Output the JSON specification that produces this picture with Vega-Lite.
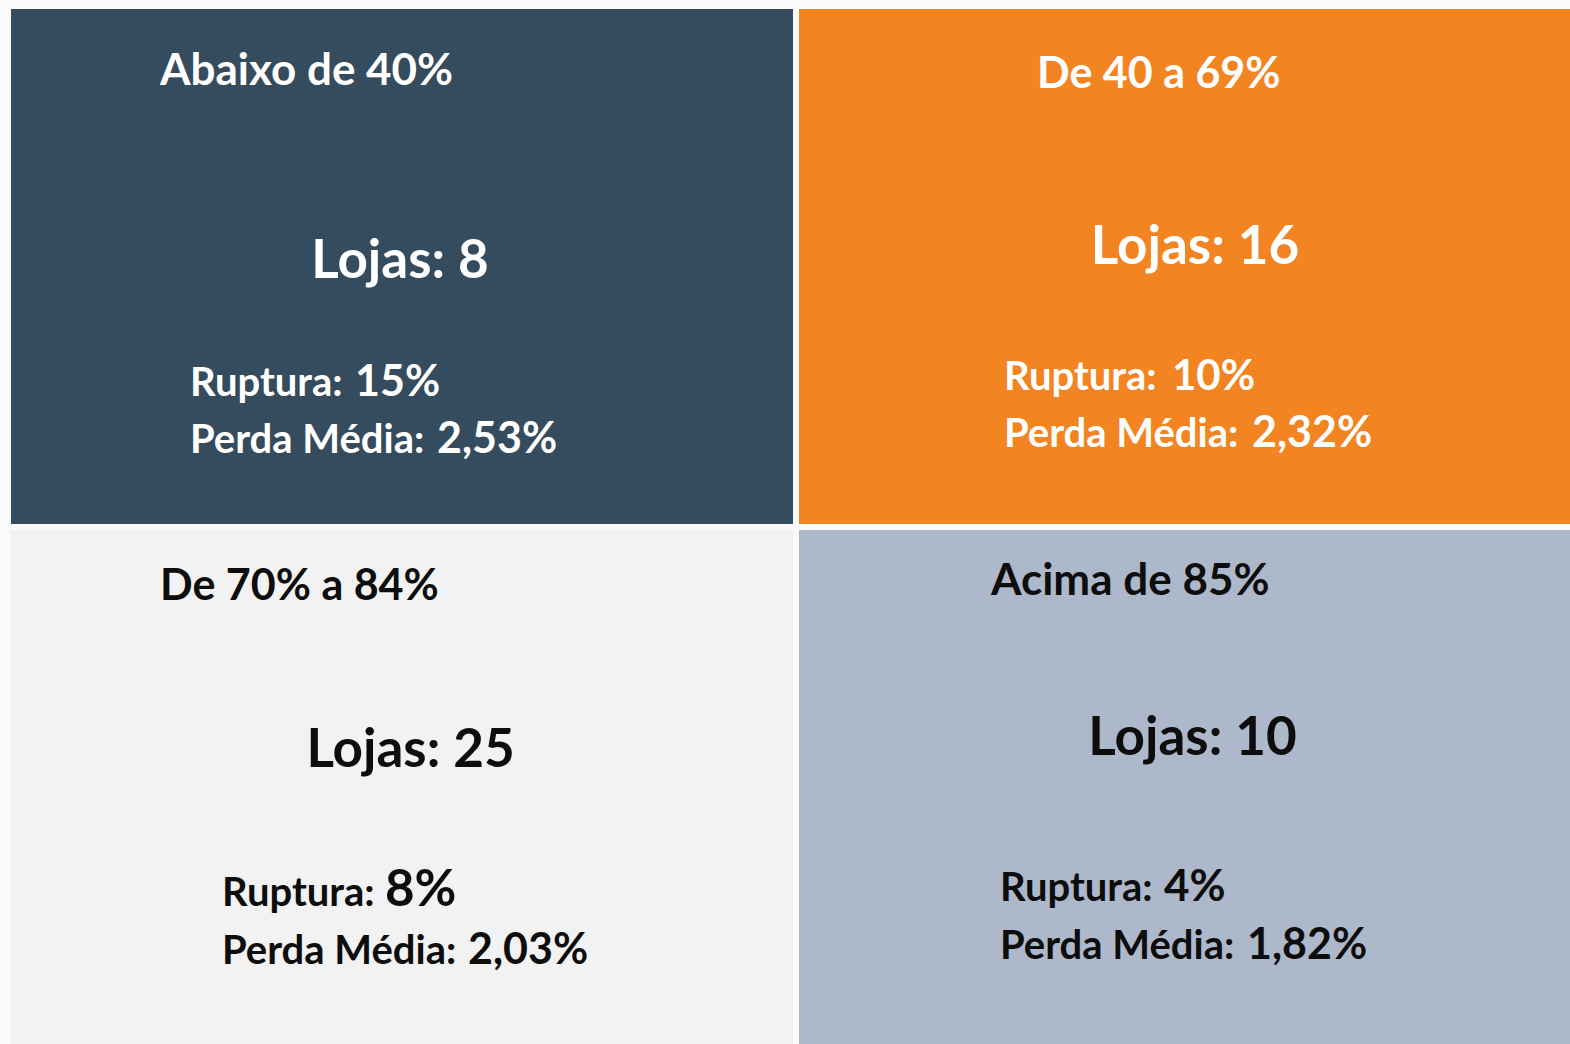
{
  "$schema": "https://vega.github.io/schema/vega-lite/v6.json",
  "width": 1570,
  "height": 1044,
  "autosize": "none",
  "padding": 0,
  "background": "#FAFAFA",
  "config": {"view": {"stroke": null}, "text": {"font": "Lato", "fontWeight": "bold", "baseline": "alphabetic"}},
  "data": {
    "values": [
      {"faixa": "Abaixo de 40%", "col": "E", "lin": "S", "lojas": 8, "ruptura": "15%", "perda": "2,53%"},
      {"faixa": "De 40 a 69%", "col": "D", "lin": "S", "lojas": 16, "ruptura": "10%", "perda": "2,32%"},
      {"faixa": "De 70% a 84%", "col": "E", "lin": "I", "lojas": 25, "ruptura": "8%", "perda": "2,03%"},
      {"faixa": "Acima de 85%", "col": "D", "lin": "I", "lojas": 10, "ruptura": "4%", "perda": "1,82%"}
    ]
  },
  "encoding": {
    "x": {"field": "col", "type": "nominal", "axis": null, "scale": {"domain": ["E", "D"], "range": [11, 1581], "paddingInner": 0.0076, "paddingOuter": 0}},
    "y": {"field": "lin", "type": "nominal", "axis": null, "scale": {"domain": ["S", "I"], "range": [9, 1045], "paddingInner": 0.0115, "paddingOuter": 0}}
  },
  "layer": [
    {
      "mark": {"type": "rect"},
      "encoding": {
        "color": {"field": "faixa", "type": "nominal", "legend": null,
          "scale": {"domain": ["Abaixo de 40%", "De 40 a 69%", "De 70% a 84%", "Acima de 85%"], "range": ["#354B5E", "#F38422", "#F2F2F2", "#ADB8CB"]}}
      }
    },
    {
      "transform": [{"filter": "datum.faixa === 'Abaixo de 40%'"}],
      "layer": [
        {"mark": {"type": "text", "align": "left", "dx": -242, "dy": -182, "fontSize": 44, "color": "white"}, "encoding": {"text": {"field": "faixa"}}},
        {"mark": {"type": "text", "align": "center", "dx": -2, "dy": 11, "fontSize": 53, "color": "white", "text": {"expr": "'Lojas: ' + datum.lojas"}}},
        {"mark": {"type": "text", "align": "left", "dx": -212, "dy": 129, "fontSize": 40, "color": "white", "text": "Ruptura:"}},
        {"mark": {"type": "text", "align": "left", "dx": -47, "dy": 129, "fontSize": 43, "color": "white"}, "encoding": {"text": {"field": "ruptura"}}},
        {"mark": {"type": "text", "align": "left", "dx": -212, "dy": 186, "fontSize": 40, "color": "white", "text": "Perda Média:"}},
        {"mark": {"type": "text", "align": "left", "dx": 35, "dy": 186, "fontSize": 43, "color": "white"}, "encoding": {"text": {"field": "perda"}}}
      ]
    },
    {
      "transform": [{"filter": "datum.faixa === 'De 40 a 69%'"}],
      "layer": [
        {"mark": {"type": "text", "align": "left", "dx": -153, "dy": -178.5, "fontSize": 43, "color": "white"}, "encoding": {"text": {"field": "faixa"}}},
        {"mark": {"type": "text", "align": "center", "dx": 5, "dy": -2.5, "fontSize": 53, "color": "white", "text": {"expr": "'Lojas: ' + datum.lojas"}}},
        {"mark": {"type": "text", "align": "left", "dx": -186, "dy": 123, "fontSize": 40, "color": "white", "text": "Ruptura:"}},
        {"mark": {"type": "text", "align": "left", "dx": -18, "dy": 123, "fontSize": 42, "color": "white"}, "encoding": {"text": {"field": "ruptura"}}},
        {"mark": {"type": "text", "align": "left", "dx": -186, "dy": 180, "fontSize": 40, "color": "white", "text": "Perda Média:"}},
        {"mark": {"type": "text", "align": "left", "dx": 62, "dy": 180, "fontSize": 43, "color": "white"}, "encoding": {"text": {"field": "perda"}}}
      ]
    },
    {
      "transform": [{"filter": "datum.faixa === 'De 70% a 84%'"}],
      "layer": [
        {"mark": {"type": "text", "align": "left", "dx": -242, "dy": -187, "fontSize": 43, "color": "#0D0D0D"}, "encoding": {"text": {"field": "faixa"}}},
        {"mark": {"type": "text", "align": "center", "dx": 8.5, "dy": -20, "fontSize": 53, "color": "#0D0D0D", "text": {"expr": "'Lojas: ' + datum.lojas"}}},
        {"mark": {"type": "text", "align": "left", "dx": -180, "dy": 119, "fontSize": 40, "color": "#0D0D0D", "text": "Ruptura:"}},
        {"mark": {"type": "text", "align": "left", "dx": -17, "dy": 119, "fontSize": 51, "color": "#0D0D0D"}, "encoding": {"text": {"field": "ruptura"}}},
        {"mark": {"type": "text", "align": "left", "dx": -180, "dy": 177, "fontSize": 40, "color": "#0D0D0D", "text": "Perda Média:"}},
        {"mark": {"type": "text", "align": "left", "dx": 66, "dy": 177, "fontSize": 43, "color": "#0D0D0D"}, "encoding": {"text": {"field": "perda"}}}
      ]
    },
    {
      "transform": [{"filter": "datum.faixa === 'Acima de 85%'"}],
      "layer": [
        {"mark": {"type": "text", "align": "left", "dx": -199, "dy": -192.5, "fontSize": 44, "color": "#0D0D0D"}, "encoding": {"text": {"field": "faixa"}}},
        {"mark": {"type": "text", "align": "center", "dx": 2.5, "dy": -32.5, "fontSize": 53, "color": "#0D0D0D", "text": {"expr": "'Lojas: ' + datum.lojas"}}},
        {"mark": {"type": "text", "align": "left", "dx": -190, "dy": 114, "fontSize": 40, "color": "#0D0D0D", "text": "Ruptura:"}},
        {"mark": {"type": "text", "align": "left", "dx": -26, "dy": 114, "fontSize": 44, "color": "#0D0D0D"}, "encoding": {"text": {"field": "ruptura"}}},
        {"mark": {"type": "text", "align": "left", "dx": -190, "dy": 172, "fontSize": 40, "color": "#0D0D0D", "text": "Perda Média:"}},
        {"mark": {"type": "text", "align": "left", "dx": 57, "dy": 172, "fontSize": 43, "color": "#0D0D0D"}, "encoding": {"text": {"field": "perda"}}}
      ]
    }
  ]
}
